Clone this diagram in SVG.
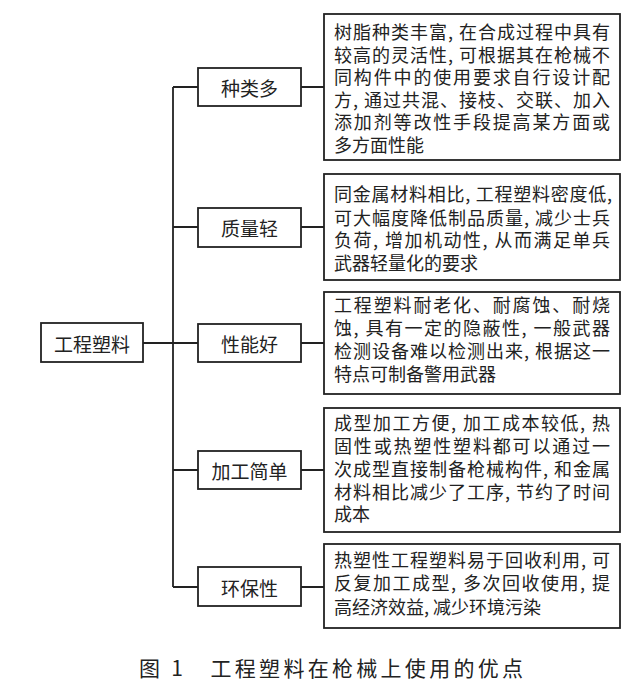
<svg xmlns="http://www.w3.org/2000/svg" width="640" height="684" viewBox="0 0 640 684">
<style>
rect{fill:#fff;stroke:#222;stroke-width:1.8}
text{font-family:"Noto Sans CJK SC","Noto Sans",sans-serif;fill:#222}
.l{font-size:19px;text-anchor:middle;dominant-baseline:central}
.d{font-size:18px}
.c{stroke:#222;stroke-width:1.8;fill:none}
</style>
<rect x="0" y="0" width="640" height="684" style="fill:#fff;stroke:none"/>
<g id="connectors">
<path class="c" d="M143 343H198M173 87V587M173 87H198M173 227H198M173 470H198M173 587H198M301 87H324M301 227H324M301 343H324M301 470H324M301 587H324"/>
</g>
<g id="root"><rect x="41" y="323" width="102" height="39"/><text class="l" x="92" y="343">工程塑料</text></g>
<g id="n1"><rect x="198" y="68" width="103" height="38"/><text class="l" x="249.5" y="87">种类多</text></g>
<g id="n2"><rect x="198" y="208" width="103" height="39"/><text class="l" x="249.5" y="227">质量轻</text></g>
<g id="n3"><rect x="198" y="324" width="103" height="38"/><text class="l" x="249.5" y="343">性能好</text></g>
<g id="n4"><rect x="198" y="451" width="103" height="38"/><text class="l" x="249.5" y="470">加工简单</text></g>
<g id="n5"><rect x="198" y="567" width="103" height="39"/><text class="l" x="249.5" y="587">环保性</text></g>
<g id="d1"><rect x="324" y="14" width="296" height="146"/>
<text class="d" x="334" y="39" textLength="276">树脂种类丰富, 在合成过程中具有</text>
<text class="d" x="334" y="61.5" textLength="276">较高的灵活性, 可根据其在枪械不</text>
<text class="d" x="334" y="84" textLength="276">同构件中的使用要求自行设计配</text>
<text class="d" x="334" y="106.5" textLength="276">方, 通过共混、接枝、交联、加入</text>
<text class="d" x="334" y="129" textLength="276">添加剂等改性手段提高某方面或</text>
<text class="d" x="334" y="151.5">多方面性能</text></g>
<g id="d2"><rect x="324" y="174" width="296" height="106"/>
<text class="d" x="334" y="201" textLength="278">同金属材料相比, 工程塑料密度低,</text>
<text class="d" x="334" y="225" textLength="276">可大幅度降低制品质量, 减少士兵</text>
<text class="d" x="334" y="247" textLength="276">负荷, 增加机动性, 从而满足单兵</text>
<text class="d" x="334" y="270">武器轻量化的要求</text></g>
<g id="d3"><rect x="324" y="292" width="296" height="102"/>
<text class="d" x="334" y="312" textLength="276">工程塑料耐老化、耐腐蚀、耐烧</text>
<text class="d" x="334" y="335" textLength="276">蚀, 具有一定的隐蔽性, 一般武器</text>
<text class="d" x="334" y="358" textLength="276">检测设备难以检测出来, 根据这一</text>
<text class="d" x="334" y="381">特点可制备警用武器</text></g>
<g id="d4"><rect x="324" y="408" width="296" height="124"/>
<text class="d" x="334" y="430" textLength="276">成型加工方便, 加工成本较低, 热</text>
<text class="d" x="334" y="452.5" textLength="276">固性或热塑性塑料都可以通过一</text>
<text class="d" x="334" y="475.5" textLength="276">次成型直接制备枪械构件, 和金属</text>
<text class="d" x="334" y="498.5" textLength="276">材料相比减少了工序, 节约了时间</text>
<text class="d" x="334" y="521">成本</text></g>
<g id="d5"><rect x="324" y="544" width="296" height="84"/>
<text class="d" x="334" y="567" textLength="276">热塑性工程塑料易于回收利用, 可</text>
<text class="d" x="334" y="590" textLength="276">反复加工成型, 多次回收使用, 提</text>
<text class="d" x="334" y="614">高经济效益, 减少环境污染</text></g>
<text x="139" y="676" textLength="384" style="font-family:'Noto Sans CJK SC',serif;font-size:21px">图 1　工程塑料在枪械上使用的优点</text>
</svg>
